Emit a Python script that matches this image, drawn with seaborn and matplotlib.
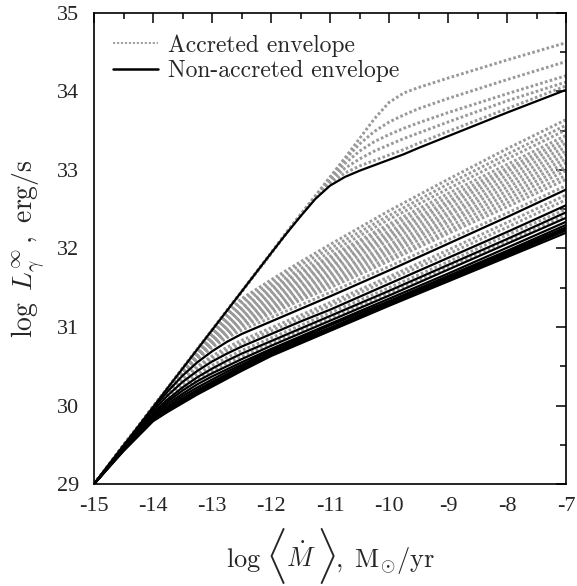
import numpy as np
import pandas as pd
import seaborn as sns
import matplotlib.pyplot as plt
from matplotlib.lines import Line2D

# x grids (log <Mdot>)
x_low = [-15, -14.5, -14, -13.75, -13.5, -13.25, -13, -12.75, -12.5, -12, -11.5, -11, -10, -9, -8, -7]
x_up = [-15, -14, -13, -12, -11.75, -11.5, -11.25, -11, -10.75, -10.5, -10.25, -10, -9.75, -9.5, -9, -8, -7]

# upper branch: non-accreted (black) and accreted (grey)
black_up = [29, 29.98, 30.96, 31.94, 32.18, 32.41, 32.63, 32.80, 32.91, 32.99, 33.06, 33.13, 33.20, 33.28, 33.43, 33.73, 34.02]
grey_up = [
    [29, 29.98, 30.96, 31.94, 32.19, 32.43, 32.67, 32.91, 33.15, 33.40, 33.65, 33.86, 33.98, 34.05, 34.17, 34.40, 34.62],
    [29, 29.98, 30.96, 31.94, 32.19, 32.43, 32.66, 32.90, 33.13, 33.33, 33.49, 33.61, 33.70, 33.78, 33.91, 34.15, 34.38],
    [29, 29.98, 30.96, 31.94, 32.19, 32.43, 32.66, 32.88, 33.08, 33.24, 33.36, 33.45, 33.53, 33.60, 33.73, 33.97, 34.20],
    [29, 29.98, 30.96, 31.94, 32.19, 32.42, 32.65, 32.86, 33.02, 33.14, 33.24, 33.32, 33.40, 33.47, 33.61, 33.88, 34.12],
    [29, 29.98, 30.96, 31.94, 32.19, 32.42, 32.64, 32.83, 32.96, 33.05, 33.12, 33.19, 33.26, 33.34, 33.49, 33.78, 34.07],
]

# lower branch: non-accreted (black)
black_low = [
    [29, 29.49, 29.96, 30.18, 30.38, 30.55, 30.69, 30.81, 30.91, 31.07, 31.23, 31.39, 31.72, 32.06, 32.40, 32.75],
    [29, 29.48, 29.93, 30.13, 30.30, 30.44, 30.56, 30.66, 30.75, 30.91, 31.07, 31.22, 31.55, 31.88, 32.21, 32.55],
    [29, 29.47, 29.90, 30.08, 30.23, 30.36, 30.47, 30.57, 30.66, 30.82, 30.98, 31.14, 31.46, 31.79, 32.12, 32.46],
    [29, 29.46, 29.88, 30.05, 30.19, 30.31, 30.41, 30.50, 30.59, 30.76, 30.92, 31.08, 31.40, 31.73, 32.06, 32.39],
    [29, 29.45, 29.86, 30.02, 30.15, 30.27, 30.37, 30.46, 30.55, 30.72, 30.88, 31.04, 31.36, 31.68, 32.01, 32.34],
    [29, 29.44, 29.84, 29.99, 30.12, 30.23, 30.33, 30.43, 30.52, 30.70, 30.86, 31.02, 31.33, 31.65, 31.97, 32.30],
    [29, 29.44, 29.83, 29.97, 30.09, 30.20, 30.30, 30.40, 30.50, 30.68, 30.84, 30.99, 31.31, 31.63, 31.95, 32.27],
    [29, 29.43, 29.82, 29.95, 30.07, 30.18, 30.28, 30.38, 30.48, 30.66, 30.82, 30.98, 31.29, 31.61, 31.93, 32.25],
    [29, 29.43, 29.81, 29.93, 30.05, 30.16, 30.26, 30.36, 30.46, 30.64, 30.80, 30.96, 31.28, 31.60, 31.91, 32.23],
    [29, 29.42, 29.80, 29.92, 30.03, 30.14, 30.24, 30.34, 30.44, 30.63, 30.79, 30.95, 31.27, 31.58, 31.89, 32.20],
]

# lower branch: accreted (grey)
grey_low = [
    [29, 29.49, 29.98, 30.22, 30.47, 30.71, 30.95, 31.18, 31.36, 31.60, 31.83, 32.05, 32.48, 32.88, 33.27, 33.64],
    [29, 29.49, 29.98, 30.22, 30.47, 30.70, 30.93, 31.15, 31.33, 31.56, 31.79, 32.00, 32.42, 32.82, 33.20, 33.57],
    [29, 29.49, 29.98, 30.22, 30.46, 30.69, 30.92, 31.13, 31.30, 31.52, 31.74, 31.95, 32.37, 32.76, 33.14, 33.51],
    [29, 29.49, 29.98, 30.22, 30.46, 30.68, 30.90, 31.10, 31.26, 31.49, 31.70, 31.90, 32.31, 32.70, 33.07, 33.44],
    [29, 29.49, 29.98, 30.21, 30.45, 30.67, 30.89, 31.08, 31.24, 31.46, 31.67, 31.87, 32.27, 32.65, 33.02, 33.39],
    [29, 29.49, 29.98, 30.21, 30.45, 30.67, 30.87, 31.07, 31.22, 31.43, 31.63, 31.83, 32.22, 32.60, 32.98, 33.34],
    [29, 29.49, 29.98, 30.21, 30.45, 30.66, 30.86, 31.05, 31.19, 31.40, 31.60, 31.79, 32.18, 32.56, 32.93, 33.29],
    [29, 29.49, 29.98, 30.21, 30.44, 30.65, 30.85, 31.03, 31.17, 31.37, 31.57, 31.76, 32.14, 32.51, 32.88, 33.24],
    [29, 29.49, 29.97, 30.21, 30.44, 30.65, 30.84, 31.01, 31.14, 31.34, 31.53, 31.72, 32.10, 32.46, 32.83, 33.19],
    [29, 29.49, 29.97, 30.21, 30.43, 30.64, 30.82, 30.99, 31.12, 31.31, 31.50, 31.68, 32.05, 32.42, 32.78, 33.14],
    [29, 29.49, 29.97, 30.21, 30.43, 30.63, 30.81, 30.97, 31.10, 31.28, 31.47, 31.65, 32.01, 32.37, 32.73, 33.09],
    [29, 29.49, 29.97, 30.21, 30.43, 30.62, 30.80, 30.95, 31.07, 31.25, 31.43, 31.61, 31.97, 32.33, 32.68, 33.04],
    [29, 29.49, 29.97, 30.20, 30.42, 30.62, 30.79, 30.93, 31.05, 31.23, 31.40, 31.57, 31.93, 32.28, 32.63, 32.99],
    [29, 29.49, 29.97, 30.20, 30.42, 30.61, 30.77, 30.91, 31.02, 31.20, 31.37, 31.54, 31.88, 32.23, 32.58, 32.93],
    [29, 29.49, 29.97, 30.20, 30.42, 30.60, 30.76, 30.89, 31.00, 31.17, 31.34, 31.50, 31.84, 32.19, 32.53, 32.88],
    [29, 29.49, 29.97, 30.20, 30.41, 30.59, 30.74, 30.86, 30.96, 31.12, 31.28, 31.44, 31.77, 32.11, 32.45, 32.80],
    [29, 29.49, 29.95, 30.16, 30.35, 30.50, 30.63, 30.74, 30.83, 30.99, 31.15, 31.31, 31.64, 31.98, 32.33, 32.68],
    [29, 29.48, 29.94, 30.14, 30.32, 30.47, 30.60, 30.70, 30.79, 30.95, 31.11, 31.27, 31.60, 31.93, 32.27, 32.62],
    [29, 29.48, 29.92, 30.10, 30.26, 30.40, 30.51, 30.61, 30.70, 30.86, 31.02, 31.18, 31.50, 31.83, 32.17, 32.50],
    [29, 29.47, 29.89, 30.06, 30.21, 30.33, 30.44, 30.54, 30.62, 30.79, 30.95, 31.11, 31.43, 31.76, 32.09, 32.42],
]

xticks = [-15, -14, -13, -12, -11, -10, -9, -8, -7]
yticks = [29, 30, 31, 32, 33, 34, 35]


def long_form(xs, curves, start):
    rows = []
    for k, ys in enumerate(curves):
        for x, y in zip(xs, ys):
            rows.append({"curve": start + k, "x": x, "y": y})
    return pd.DataFrame(rows)


grey_df = pd.concat([long_form(x_up, grey_up, 0), long_form(x_low, grey_low, 100)])
black_df = pd.concat([long_form(x_up, [black_up], 200), long_form(x_low, black_low, 300)])

sns.set_style("white")
plt.rcParams.update({
    "font.family": "serif",
    "font.serif": ["Liberation Serif", "DejaVu Serif"],
    "mathtext.fontset": "cm",
    "axes.unicode_minus": False,
})

fig = plt.figure(figsize=(5.77, 5.86), dpi=100)
ax = fig.add_axes([0.163, 0.174, 0.818, 0.804])

sns.lineplot(data=grey_df, x="x", y="y", units="curve", estimator=None, ax=ax,
             color="#999999", lw=2.1, linestyle=(0, (0.9, 0.8)), legend=False)
sns.lineplot(data=black_df, x="x", y="y", units="curve", estimator=None, ax=ax,
             color="black", lw=1.6, legend=False)

ax.set_xlim(-15, -7)
ax.set_ylim(29, 35)
ax.set_xticks(xticks)
ax.set_yticks(yticks)
ax.set_xticklabels([str(t) for t in xticks])
ax.set_yticklabels([str(t) for t in yticks])
ax.set_xticks(np.arange(-14.5, -7, 1.0), minor=True)
ax.set_yticks(np.arange(29.5, 35, 1.0), minor=True)
ax.tick_params(which="both", direction="in", top=True, right=True, width=1.1, color="black")
ax.tick_params(which="major", length=7, labelsize=16)
ax.tick_params(axis="x", which="major", pad=9)
ax.tick_params(axis="y", which="major", pad=11)
ax.tick_params(which="minor", length=4)
for s in ax.spines.values():
    s.set_linewidth(1.2)
    s.set_color("black")

ax.set_xlabel("")
ax.set_ylabel(r"$\log\ L_{\gamma}^{\infty}\,,\ \mathrm{erg/s}$", fontsize=20, labelpad=7)

# x label built piece by piece so the angle brackets can be tall
y0 = 1 - 567 / 586
t = ax.annotate(r"$\log$", xy=(226 / 577, y0), xycoords="figure fraction",
                fontsize=19, va="baseline", ha="left")
pieces = [(r"$\langle$", 34, (3, -4.5)), (r"$\dot{M}$", 19, (0, 0)),
          (r"$\rangle$", 34, (0, -4.5)), (r"$,\ \mathrm{M}_{\odot}/\mathrm{yr}$", 19, (0, 0))]
for txt, size, off in pieces:
    t = ax.annotate(txt, xy=(1, y0), xycoords=(t, "figure fraction"), xytext=off,
                    textcoords="offset points", fontsize=size, va="baseline", ha="left")

handles = [
    Line2D([], [], color="#999999", lw=1.3, linestyle=(0, (1.2, 1.0))),
    Line2D([], [], color="black", lw=1.8),
]
leg = ax.legend(handles, ["Accreted envelope", "Non-accreted envelope"], loc="upper left",
                bbox_to_anchor=(0.0, 0.995), frameon=False, handlelength=1.9, handletextpad=0.45,
                labelspacing=0.15, borderaxespad=0.4, prop={"family": "cmr10", "size": 17})

fig.savefig("out.png", dpi=100)
